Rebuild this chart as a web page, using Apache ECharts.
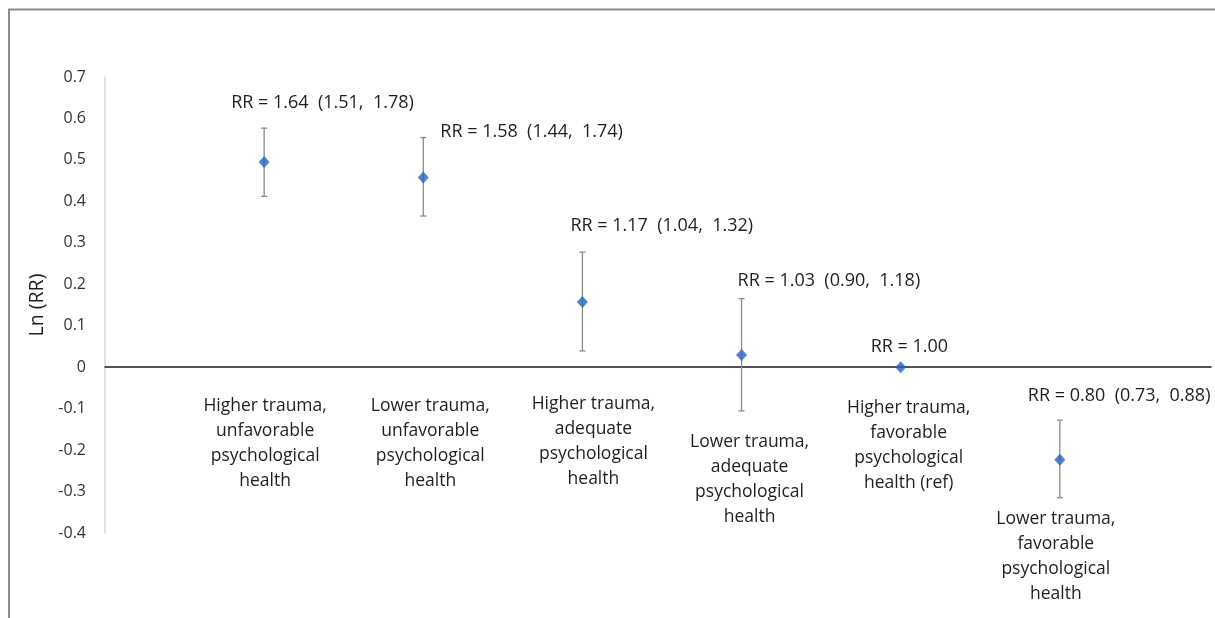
<!DOCTYPE html>
<html>
<head>
<meta charset="utf-8">
<style>
  html, body { margin: 0; padding: 0; background: #fff; }
  #chart { width: 1215px; height: 618px; }
</style>
<script src="https://cdn.jsdelivr.net/npm/echarts@6/dist/echarts.min.js"></script>
</head>
<body>
<div id="chart"></div>
<script>
// Groups of trauma level x psychological health
const categories = [
  'Higher trauma,\nunfavorable\npsychological\nhealth',
  'Lower trauma,\nunfavorable\npsychological\nhealth',
  'Higher trauma,\nadequate\npsychological\nhealth',
  'Lower trauma,\nadequate\npsychological\nhealth',
  'Higher trauma,\nfavorable\npsychological\nhealth (ref)',
  'Lower trauma,\nfavorable\npsychological\nhealth'
];
// Relative risk and 95% confidence limits (reference group has none)
const rr     = [1.64, 1.58, 1.17, 1.03, 1.00, 0.80];
const rrLow  = [1.51, 1.44, 1.04, 0.90, null, 0.73];
const rrHigh = [1.78, 1.74, 1.32, 1.18, null, 0.88];

// Label placement (pixel offsets from the top of each interval / category anchor)
const rrLabelOffset  = [[-33, -25], [17, -6], [-12, -26], [-4, -18], [-30, -20], [-32, -24]];
const catLabelOffset = [[1, 26], [7, 26], [11, 24], [8, 62], [8, 28], [-4, 139]];

const FONT = '"Open Sans", Lato, sans-serif';
const TEXT_COLOR = '#1f1f1f';

const points = rr.map((v, i) => [i + 1, Math.log(v), i]);
const intervals = rr.map((v, i) => [
  i + 1,
  Math.log(v),
  rrLow[i] == null ? null : Math.log(rrLow[i]),
  rrHigh[i] == null ? null : Math.log(rrHigh[i]),
  i
]);

function fmt(v) { return v.toFixed(2); }
function rrText(i) {
  if (rrLow[i] == null) return 'RR = ' + fmt(rr[i]);
  return 'RR = ' + fmt(rr[i]) + '  (' + fmt(rrLow[i]) + ',  ' + fmt(rrHigh[i]) + ')';
}

const chart = echarts.init(document.getElementById('chart'), null, { renderer: 'canvas' });

chart.setOption({
  backgroundColor: '#fff',
  animation: false,
  graphic: [{
    type: 'rect',
    shape: { x: 9, y: 9.5, width: 1400, height: 800 },
    style: { fill: 'none', stroke: '#8c8c8c', lineWidth: 2 },
    silent: true
  }],
  grid: { left: 105, top: 77, width: 1106, height: 456, containLabel: false },
  xAxis: {
    type: 'value',
    min: 0,
    max: 6.95,
    axisLine: { show: true, onZero: true, lineStyle: { color: '#1a1a1a', width: 1.5 } },
    axisTick: { show: false },
    axisLabel: { show: false },
    splitLine: { show: false }
  },
  yAxis: {
    type: 'value',
    min: -0.4,
    max: 0.7,
    interval: 0.1,
    name: 'Ln (RR)',
    nameLocation: 'middle',
    nameRotate: 90,
    nameGap: 58,
    nameTextStyle: { fontFamily: FONT, fontSize: 19.5, color: TEXT_COLOR },
    axisLine: { show: true, onZero: false, lineStyle: { color: '#d9d9d9', width: 1.5 } },
    axisTick: { show: false },
    splitLine: { show: false },
    axisLabel: {
      margin: 19,
      fontFamily: FONT,
      fontSize: 16,
      color: '#333',
      formatter: v => {
        const r = Math.round(v * 10) / 10;
        return r === 0 ? '0' : r.toFixed(1);
      }
    }
  },
  series: [
    {
      // Confidence interval whiskers, value labels and category captions
      type: 'custom',
      data: intervals,
      z: 2,
      renderItem: (params, api) => {
        const i = api.value(4);
        const x = api.value(0);
        const lo = api.value(2);
        const hi = api.value(3);
        const children = [];
        const pt = api.coord([x, api.value(1)]);
        let anchor = pt;
        if (rrLow[i] != null && rrHigh[i] != null) {
          const pLo = api.coord([x, lo]);
          const pHi = api.coord([x, hi]);
          const lineStyle = { stroke: '#8a8a8a', lineWidth: 1.3 };
          children.push(
            { type: 'line', shape: { x1: pLo[0], y1: pLo[1], x2: pHi[0], y2: pHi[1] }, style: lineStyle },
            { type: 'line', shape: { x1: pLo[0] - 3, y1: pLo[1], x2: pLo[0] + 3, y2: pLo[1] }, style: lineStyle },
            { type: 'line', shape: { x1: pHi[0] - 3, y1: pHi[1], x2: pHi[0] + 3, y2: pHi[1] }, style: lineStyle }
          );
          anchor = pHi;
        }
        const off = rrLabelOffset[i];
        children.push({
          type: 'text',
          x: anchor[0] + off[0],
          y: anchor[1] + off[1],
          style: {
            text: rrText(i),
            fontFamily: FONT,
            fontSize: 18,
            fill: TEXT_COLOR,
            align: 'left',
            verticalAlign: 'middle'
          }
        });
        const base = api.coord([x, 0]);
        const co = catLabelOffset[i];
        children.push({
          type: 'text',
          x: base[0] + co[0],
          y: base[1] + co[1],
          style: {
            text: categories[i],
            fontFamily: FONT,
            fontSize: 17.5,
            lineHeight: 25,
            fill: TEXT_COLOR,
            align: 'center',
            verticalAlign: 'top'
          }
        });
        return { type: 'group', children };
      }
    },
    {
      type: 'scatter',
      data: points,
      symbol: 'diamond',
      symbolSize: [11, 12],
      itemStyle: { color: '#2663c6' },
      z: 3
    }
  ]
});
</script>
</body>
</html>
